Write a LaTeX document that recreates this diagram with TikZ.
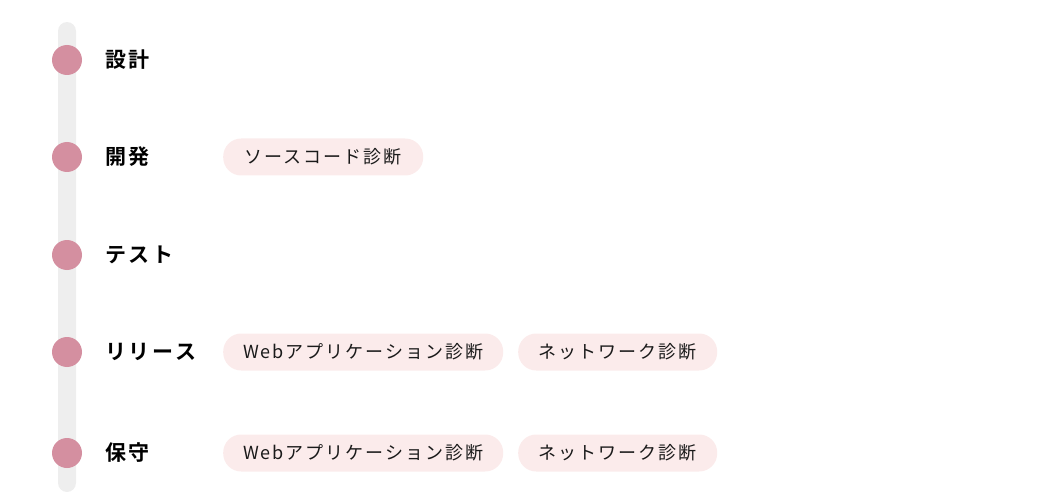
\documentclass[tikz,border=0pt]{standalone}
\usepackage{fontspec}
\setmainfont{Noto Sans CJK JP}[LetterSpace=11]
\newfontfamily\jpbold{Noto Sans CJK JP Bold}[LetterSpace=13]
\definecolor{trackgray}{HTML}{EEEEEE}
\definecolor{dotpink}{HTML}{D48FA0}
\definecolor{pillpink}{HTML}{FBEBEB}
\definecolor{txtdark}{HTML}{1A1A1A}
\begin{document}
\begin{tikzpicture}[x=1pt,y=-1pt,
  dot/.style={circle,fill=dotpink,minimum size=30pt,inner sep=0pt},
  phase/.style={anchor=west,inner sep=0pt,font=\jpbold\fontsize{21}{24}\selectfont,text=black},
  pill/.style={anchor=west,rounded corners=18pt,fill=pillpink,minimum height=37pt,inner sep=0pt,text=txtdark,font=\fontsize{18}{20}\selectfont},
]
\useasboundingbox (0,0) rectangle (1042,500);
\fill[trackgray,rounded corners=9pt] (58,22) rectangle (76,492);
\node[dot] (d1) at (67,60) {};
\node[dot] (d2) at (67,157) {};
\node[dot] (d3) at (67,255) {};
\node[dot] (d4) at (67,352) {};
\node[dot] (d5) at (67,453) {};
\node[phase] (p1) at (105,60) {設計};
\node[phase] (p2) at (105,157) {開発};
\node[phase] (p3) at (105,255) {テスト};
\node[phase] (p4) at (105,352) {リリース};
\node[phase] (p5) at (105,453) {保守};
\node[pill,minimum width=200pt] (s1) at (223,157) {ソースコード診断};
\node[pill,minimum width=280pt] (w1) at (223,352) {Webアプリケーション診断};
\node[pill,minimum width=199pt] (n1) at (518,352) {ネットワーク診断};
\node[pill,minimum width=280pt] (w2) at (223,453) {Webアプリケーション診断};
\node[pill,minimum width=199pt] (n2) at (518,453) {ネットワーク診断};
\end{tikzpicture}
\end{document}
